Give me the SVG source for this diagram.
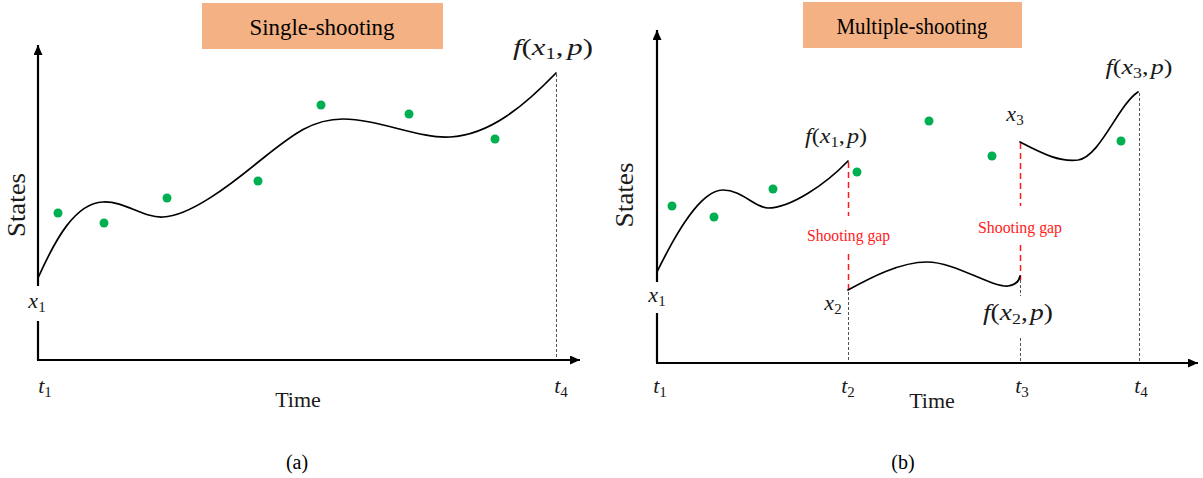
<svg xmlns="http://www.w3.org/2000/svg" width="1203" height="478" viewBox="0 0 1203 478">
<style>
.bg{fill:#ffffff}
.title-box{fill:#f4b183}
.title{font-family:"Liberation Serif","Times New Roman",serif;font-size:23px;fill:#000;text-anchor:middle}
.axis{stroke:#000;stroke-width:2.2;fill:none}
.curve{stroke:#000;stroke-width:1.7;fill:none;stroke-linecap:round}
.guide{stroke:#555;stroke-width:1;stroke-dasharray:3 2;fill:none}
.gap{stroke:#ff1a1a;stroke-width:1.5;stroke-dasharray:6 4;fill:none}
.dot{fill:#00b050}
.math{font-family:"Liberation Serif","Times New Roman",serif;font-size:22px;fill:#1a1a1a;text-anchor:middle}
.it{font-style:italic}
.sub{font-size:15px}
.plain{font-family:"Liberation Serif","Times New Roman",serif;font-size:22px;fill:#1a1a1a;text-anchor:middle}
.states{font-family:"Liberation Serif","Times New Roman",serif;font-size:25px;fill:#1a1a1a;text-anchor:middle}
.gaplabel{font-family:"Liberation Serif","Times New Roman",serif;font-size:17px;fill:#ff1a1a;text-anchor:middle}
.caption{font-family:"Liberation Serif","Times New Roman",serif;font-size:20px;fill:#000;text-anchor:middle}
</style>
<defs>
<marker id="arrow" markerUnits="userSpaceOnUse" markerWidth="11" markerHeight="10" refX="10" refY="4.5" orient="auto">
<path d="M0,0 L10,4.5 L0,9 z" fill="#000"/>
</marker>
</defs>
<rect class="bg" x="0" y="0" width="1203" height="478"/>

<!-- Titles -->
<g id="title-single">
<rect class="title-box" x="202" y="3" width="241" height="46"/>
<text class="title" x="322" y="35" textLength="145" lengthAdjust="spacingAndGlyphs">Single-shooting</text>
</g>
<g id="title-multiple">
<rect class="title-box" x="803" y="2" width="219" height="46"/>
<text class="title" x="912" y="34" textLength="151" lengthAdjust="spacingAndGlyphs">Multiple-shooting</text>
</g>

<!-- Connectors: axes and guide lines -->
<g id="connectors">
<!-- panel a axes -->
<line class="axis" x1="38" y1="286" x2="38" y2="45" marker-end="url(#arrow)"/>
<line class="axis" x1="38" y1="321" x2="38" y2="360"/>
<line class="axis" x1="37" y1="360" x2="580" y2="360" marker-end="url(#arrow)"/>
<line class="guide" x1="556.5" y1="74" x2="556.5" y2="359"/>
<!-- panel b axes -->
<line class="axis" x1="657" y1="282" x2="657" y2="30" marker-end="url(#arrow)"/>
<line class="axis" x1="657" y1="313" x2="657" y2="363"/>
<line class="axis" x1="656" y1="363" x2="1198" y2="363" marker-end="url(#arrow)"/>
<line class="guide" x1="848.5" y1="292" x2="848.5" y2="362"/>
<line class="guide" x1="1020.5" y1="280" x2="1020.5" y2="296"/>
<line class="guide" x1="1020.5" y1="338" x2="1020.5" y2="362"/>
<line class="guide" x1="1139.5" y1="93" x2="1139.5" y2="362"/>
<!-- shooting gaps -->
<line class="gap" x1="848.5" y1="162" x2="848.5" y2="216"/>
<line class="gap" x1="848.5" y1="254" x2="848.5" y2="290"/>
<line class="gap" x1="1020.5" y1="143" x2="1020.5" y2="206"/>
<line class="gap" x1="1020.5" y1="245" x2="1020.5" y2="280"/>
</g>

<!-- Trajectories -->
<g id="trajectory-single">
<path class="curve" d="M38,278 C55,240 75,203 103,202 C125,201 143,218 163,217 C190,216 230,185 257,163 C290,137 310,119 343,119 C378,119 420,139 450,137 C490,135 525,105 556,73"/>
</g>
<g id="trajectory-multi-1">
<path class="curve" d="M657,272 C675,235 700,190 723,190 C742,190 755,208 768,208 C790,208 825,185 848,161"/>
</g>
<g id="trajectory-multi-2">
<path class="curve" d="M848,290 C870,278 900,262 927,262 C955,262 990,287 1008,286 C1015,285 1019,282 1020,276"/>
</g>
<g id="trajectory-multi-3">
<path class="curve" d="M1020,142 C1045,155 1060,162 1078,160 C1100,157 1118,105 1138,92"/>
</g>

<!-- Data points -->
<g id="data-single">
<circle class="dot" cx="58" cy="213" r="4.5"/>
<circle class="dot" cx="104" cy="223" r="4.5"/>
<circle class="dot" cx="167" cy="198" r="4.5"/>
<circle class="dot" cx="258" cy="181" r="4.5"/>
<circle class="dot" cx="321" cy="105" r="4.5"/>
<circle class="dot" cx="409" cy="114" r="4.5"/>
<circle class="dot" cx="495" cy="139" r="4.5"/>
</g>
<g id="data-multi">
<circle class="dot" cx="672" cy="206" r="4.5"/>
<circle class="dot" cx="714" cy="217" r="4.5"/>
<circle class="dot" cx="773" cy="189" r="4.5"/>
<circle class="dot" cx="857" cy="172" r="4.5"/>
<circle class="dot" cx="929" cy="121" r="4.5"/>
<circle class="dot" cx="992" cy="156" r="4.5"/>
<circle class="dot" cx="1121" cy="141" r="4.5"/>
</g>

<!-- Labels panel a -->
<g id="labels-single">
<text class="math" x="553" y="55" textLength="80" lengthAdjust="spacingAndGlyphs" style="font-size:24px"><tspan class="it">f</tspan>(<tspan class="it">x</tspan><tspan class="sub" dy="4" style="font-size:16px">1</tspan><tspan dy="-4">,</tspan><tspan class="it" dx="3">p</tspan>)</text>
<text class="math" x="37" y="308"><tspan class="it">x</tspan><tspan class="sub" dy="4">1</tspan></text>
<text class="math" x="45" y="393"><tspan class="it">t</tspan><tspan class="sub" dy="4">1</tspan></text>
<text class="math" x="561" y="393"><tspan class="it">t</tspan><tspan class="sub" dy="4">4</tspan></text>
<text class="plain" x="298" y="407">Time</text>
<text class="states" x="25" y="205" transform="rotate(-90 25 205)" textLength="64" lengthAdjust="spacingAndGlyphs">States</text>
<text class="caption" x="297" y="469">(a)</text>
</g>

<!-- Labels panel b -->
<g id="labels-multi">
<text class="math" x="836" y="143" textLength="62" lengthAdjust="spacingAndGlyphs"><tspan class="it">f</tspan>(<tspan class="it">x</tspan><tspan class="sub" dy="4">1</tspan><tspan dy="-4">,</tspan><tspan class="it" dx="2">p</tspan>)</text>
<text class="math" x="1015" y="121"><tspan class="it">x</tspan><tspan class="sub" dy="4">3</tspan></text>
<text class="math" x="1139" y="74" textLength="67" lengthAdjust="spacingAndGlyphs"><tspan class="it">f</tspan>(<tspan class="it">x</tspan><tspan class="sub" dy="4">3</tspan><tspan dy="-4">,</tspan><tspan class="it" dx="2">p</tspan>)</text>
<text class="math" x="657" y="302"><tspan class="it">x</tspan><tspan class="sub" dy="4">1</tspan></text>
<text class="math" x="833" y="310"><tspan class="it">x</tspan><tspan class="sub" dy="4">2</tspan></text>
<text class="math" x="1018" y="320" textLength="70" lengthAdjust="spacingAndGlyphs" style="font-size:23px"><tspan class="it">f</tspan>(<tspan class="it">x</tspan><tspan class="sub" dy="4">2</tspan><tspan dy="-4">,</tspan><tspan class="it" dx="2">p</tspan>)</text>
<text class="gaplabel" x="848.5" y="241" textLength="83" lengthAdjust="spacingAndGlyphs">Shooting gap</text>
<text class="gaplabel" x="1020" y="233" textLength="84" lengthAdjust="spacingAndGlyphs">Shooting gap</text>
<text class="math" x="660" y="393"><tspan class="it">t</tspan><tspan class="sub" dy="4">1</tspan></text>
<text class="math" x="848" y="393"><tspan class="it">t</tspan><tspan class="sub" dy="4">2</tspan></text>
<text class="math" x="1022" y="393"><tspan class="it">t</tspan><tspan class="sub" dy="4">3</tspan></text>
<text class="math" x="1141" y="393"><tspan class="it">t</tspan><tspan class="sub" dy="4">4</tspan></text>
<text class="plain" x="932" y="408">Time</text>
<text class="states" x="633" y="195" transform="rotate(-90 633 195)" textLength="65" lengthAdjust="spacingAndGlyphs">States</text>
<text class="caption" x="903" y="469">(b)</text>
</g>
</svg>
